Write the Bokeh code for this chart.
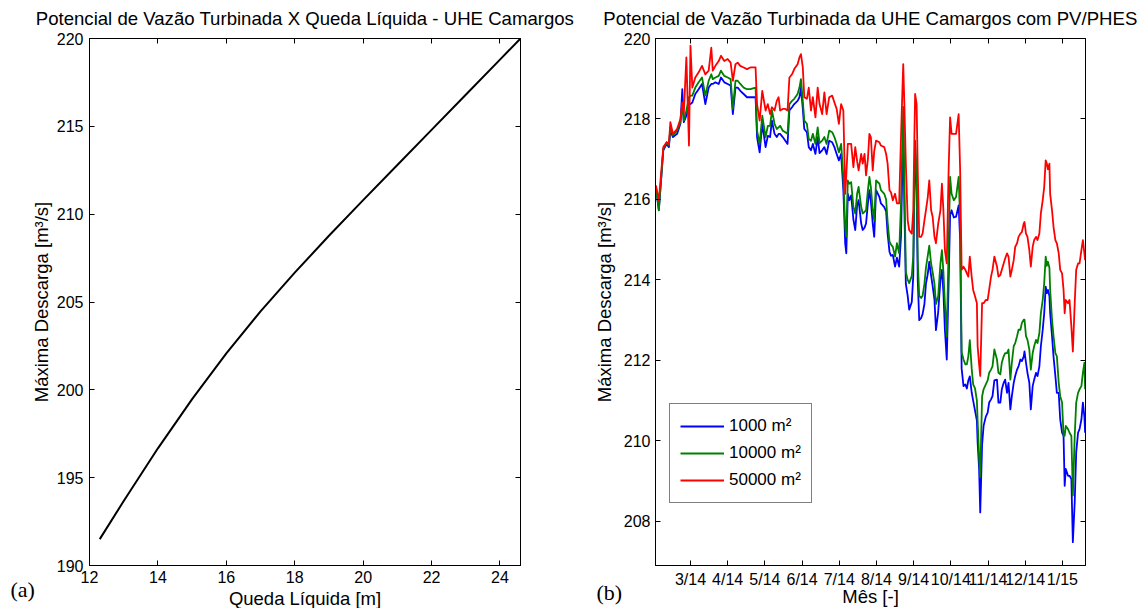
from bokeh.plotting import figure
from bokeh.models import (FixedTicker, LinearAxis, Legend, LegendItem, Title,
                          Range1d, ColumnDataSource, CustomLabelingPolicy)
from bokeh.layouts import row
from bokeh.embed import file_html
from bokeh.resources import INLINE

FONT = "Liberation Sans"

# ---------------- Panel (a): max discharge vs net head ----------------
queda = [12.3, 13.0, 14.0, 15.0, 16.0, 17.0, 18.0, 19.0, 20.0, 21.0, 22.0, 23.0, 24.0, 24.6]
descarga = [191.5, 193.67, 196.67, 199.47, 202.07, 204.47, 206.67, 208.77, 210.8,
            212.8, 214.8, 216.8, 218.8, 220.0]
a_xticks = [12, 14, 16, 18, 20, 22, 24]
a_yticks = [190, 195, 200, 205, 210, 215, 220]

# ---------------- Panel (b): max discharge over the months ----------------
# month index: 3 = 3/14 ... 13 = 1/15
mes = ([2.07, 2.15, 2.27, 2.36, 2.42, 2.46, 2.53, 2.64, 2.73, 2.78,
        2.82, 2.89, 2.96, 3.00, 3.05, 3.13, 3.22, 3.31, 3.40, 3.49,
        3.56, 3.60, 3.67, 3.76, 3.82, 3.91, 4.00, 4.08, 4.14, 4.21,
        4.27, 4.34, 4.43, 4.52, 4.61, 4.75, 4.79, 4.86, 4.93, 5.02]
       + [5.08, 5.14, 5.19, 5.26, 5.32, 5.37, 5.41, 5.48, 5.55, 5.61,
          5.66, 5.73, 5.79, 5.88, 5.93, 5.97, 6.02, 6.06, 6.13, 6.18,
          6.24, 6.29, 6.36, 6.42, 6.47, 6.54, 6.60, 6.66, 6.73, 6.81,
          6.87, 6.93, 6.99, 7.05, 7.11, 7.16, 7.19, 7.23, 7.27, 7.32,
          7.38, 7.43, 7.48, 7.52, 7.59, 7.63, 7.68, 7.72, 7.77, 7.81,
          7.85, 7.90, 7.94, 7.99, 8.08]
       + [8.12, 8.21, 8.26, 8.30, 8.35, 8.39, 8.44, 8.50, 8.55, 8.61,
          8.66, 8.70, 8.72, 8.75, 8.79, 8.84, 8.88, 8.95, 8.99, 9.02,
          9.04, 9.08, 9.11, 9.15, 9.20, 9.24, 9.29, 9.33, 9.38, 9.42,
          9.47, 9.51, 9.56, 9.60, 9.66, 9.72, 9.76, 9.80, 9.84, 9.89,
          9.94, 9.98, 10.02, 10.08, 10.14, 10.21, 10.25, 10.29, 10.34, 10.39,
          10.43, 10.47, 10.51, 10.56, 10.60, 10.65, 10.70, 10.72, 10.76, 10.79,
          10.84, 10.88, 10.94, 10.99, 11.03, 11.08, 11.12, 11.17]
       + [11.24, 11.28, 11.33, 11.37, 11.42, 11.46, 11.51, 11.55, 11.60, 11.64,
          11.69, 11.73, 11.78, 11.82, 11.87, 11.91, 11.96, 11.98, 12.02, 12.06,
          12.11, 12.15, 12.20, 12.24, 12.29, 12.33, 12.38, 12.42, 12.47, 12.51,
          12.55, 12.58, 12.61, 12.65, 12.67, 12.72, 12.76, 12.81, 12.85, 12.90,
          12.94, 12.99, 13.03, 13.06, 13.09, 13.15, 13.19, 13.24, 13.28, 13.33,
          13.37, 13.42, 13.46, 13.51, 13.55, 13.59, 13.61])

q_1000 = ([216.31, 215.73, 217.22, 217.38, 217.30, 217.71, 217.55, 217.63, 217.88, 218.74,
           217.92, 218.08, 218.37, 218.37, 218.41, 218.62, 218.74, 218.87, 218.37, 218.78,
           218.87, 218.87, 218.91, 218.87, 219.03, 218.91, 218.87, 218.83, 218.12, 218.78,
           218.78, 218.70, 218.62, 218.54, 218.54, 218.54, 217.55, 217.17, 217.88, 217.30]
          + [217.58, 217.55, 217.96, 217.63, 217.55, 217.63, 217.63, 217.55, 217.46, 217.38,
             218.21, 218.29, 218.37, 218.45, 218.54, 218.78, 218.25, 217.75, 217.67, 217.30,
             217.22, 217.38, 217.13, 217.55, 217.15, 217.22, 217.30, 217.13, 217.46, 217.42,
             217.30, 217.13, 216.97, 217.13, 216.23, 214.90, 214.66, 216.14, 215.98, 216.10,
             215.50, 215.24, 215.85, 215.98, 215.40, 215.24, 215.30, 215.40, 215.90, 216.23,
             215.95, 215.40, 215.07, 216.23, 216.06]
          + [215.90, 215.81, 215.70, 215.15, 214.70, 214.60, 214.62, 214.33, 214.55, 214.33,
             215.07, 216.90, 217.90, 215.80, 213.90, 213.60, 213.26, 213.45, 214.10, 216.31,
             217.30, 216.20, 214.00, 213.00, 213.05, 213.15, 213.40, 213.90, 214.15, 214.45,
             214.10, 213.85, 213.50, 212.75, 213.20, 214.00, 214.25, 213.70, 212.76, 212.02,
             213.90, 215.60, 215.73, 215.55, 215.57, 215.85, 215.00, 211.80, 211.36, 211.40,
             211.30, 211.50, 211.60, 211.20, 211.00, 210.75, 210.50, 209.96, 209.30, 208.22,
             209.90, 210.37, 210.60, 210.70, 210.95, 211.03, 211.11, 211.50]
          + [211.52, 210.95, 210.95, 211.28, 211.44, 211.52, 211.19, 211.44, 210.78, 211.11,
             211.44, 211.61, 211.77, 211.85, 212.02, 211.98, 212.10, 212.22, 211.94, 211.69,
             211.44, 210.78, 211.36, 211.52, 211.69, 211.61, 211.85, 212.35, 212.76, 213.17,
             213.83, 213.67, 213.75, 213.60, 213.17, 212.60, 212.10, 211.61, 211.19, 211.19,
             210.53, 210.20, 210.12, 208.88, 209.30, 209.13, 209.13, 209.05, 207.48, 208.47,
             209.71, 210.20, 210.29, 210.53, 210.95, 210.60, 210.20])

q_10000 = ([216.31, 215.73, 217.26, 217.42, 217.34, 217.79, 217.59, 217.71, 217.92, 218.37,
            217.96, 218.21, 218.54, 218.58, 218.58, 218.78, 218.91, 219.03, 218.58, 218.95,
            219.11, 218.99, 219.03, 219.07, 219.20, 219.07, 219.03, 218.99, 218.25, 218.95,
            218.95, 218.87, 218.78, 218.74, 218.74, 218.78, 217.71, 217.38, 218.08, 217.55]
           + [217.83, 217.83, 218.21, 217.88, 217.75, 217.79, 217.83, 217.71, 217.67, 217.63,
              218.37, 218.45, 218.50, 218.62, 218.78, 218.99, 218.45, 217.96, 217.88, 217.50,
              217.46, 217.63, 217.38, 217.79, 217.40, 217.46, 217.55, 217.38, 217.71, 217.67,
              217.55, 217.38, 217.17, 217.38, 216.56, 215.30, 215.07, 216.47, 216.39, 216.43,
              215.81, 215.65, 216.14, 216.31, 215.81, 215.65, 215.69, 215.73, 216.23, 216.56,
              216.30, 215.75, 215.48, 216.47, 216.39]
           + [216.23, 216.14, 216.00, 215.45, 214.95, 214.88, 214.82, 214.58, 214.91, 214.66,
              215.90, 217.50, 218.30, 216.50, 214.20, 214.00, 213.92, 214.10, 214.60, 216.47,
              217.46, 216.60, 214.50, 213.60, 213.55, 213.60, 213.90, 214.30, 214.60, 214.85,
              214.40, 214.20, 213.90, 213.40, 213.60, 214.41, 214.74, 214.20, 213.42, 212.60,
              214.80, 216.56, 216.14, 215.98, 216.06, 216.56, 215.48, 212.20, 212.02, 211.90,
              211.90, 212.10, 212.50, 211.80, 211.40, 211.30, 211.00, 210.50, 209.60, 209.10,
              211.10, 211.28, 211.40, 211.50, 211.69, 211.77, 211.85, 212.27]
           + [212.02, 211.69, 211.65, 211.94, 212.10, 212.18, 212.18, 212.27, 211.52, 211.94,
              212.35, 212.43, 212.60, 212.76, 212.76, 212.93, 213.01, 213.01, 212.60, 212.51,
              212.27, 211.77, 212.18, 212.35, 212.51, 212.43, 212.68, 213.17, 213.50, 213.92,
              214.58, 214.35, 214.45, 214.30, 213.75, 213.01, 212.60, 212.18, 212.10, 211.44,
              211.11, 210.95, 210.12, 210.12, 210.37, 210.29, 210.20, 210.12, 208.64, 210.12,
              210.95, 211.19, 211.28, 211.36, 211.69, 211.94, 211.28])

q_50000 = ([216.35, 215.98, 217.30, 217.42, 217.38, 217.92, 217.63, 217.75, 218.00, 218.41,
            218.12, 219.53, 217.34, 219.82, 218.78, 219.03, 219.16, 219.32, 219.11, 219.20,
            219.77, 219.20, 219.32, 219.44, 219.57, 219.44, 219.49, 219.40, 218.95, 219.36,
            219.40, 219.32, 219.28, 219.24, 219.28, 219.28, 218.37, 217.96, 218.70, 218.21]
           + [218.37, 218.12, 218.29, 218.21, 218.45, 218.54, 218.21, 218.25, 218.25, 218.21,
              219.03, 219.11, 219.24, 219.36, 219.53, 219.61, 219.28, 218.54, 218.50, 218.78,
              218.21, 218.54, 218.04, 218.78, 218.37, 218.12, 218.66, 218.12, 218.54, 218.58,
              218.41, 218.25, 217.88, 218.37, 218.21, 216.14, 216.60, 217.38, 217.38, 217.38,
              216.80, 217.30, 216.95, 216.72, 217.13, 216.89, 217.13, 216.60, 217.00, 217.63,
              217.55, 216.72, 217.20, 217.46, 217.42]
           + [217.34, 217.30, 217.13, 216.89, 216.23, 216.18, 215.98, 216.14, 215.90, 215.90,
              217.55, 218.78, 219.36, 218.37, 216.89, 215.48, 215.24, 215.15, 215.73, 217.55,
              218.62, 218.37, 216.72, 215.07, 215.07, 215.15, 215.48, 215.73, 216.06, 216.47,
              215.73, 215.57, 215.07, 214.91, 215.40, 215.73, 216.39, 215.73, 214.74, 214.41,
              216.72, 218.04, 217.63, 217.63, 217.63, 218.12, 216.72, 214.25, 214.33, 214.25,
              214.16, 214.08, 214.58, 214.08, 213.75, 213.59, 213.42, 212.35, 211.90, 211.61,
              213.42, 213.42, 213.50, 213.50, 213.75, 214.08, 214.25, 214.58]
           + [214.33, 214.08, 214.12, 214.25, 214.41, 214.53, 214.66, 214.58, 214.08, 214.25,
              214.49, 214.82, 214.91, 215.07, 215.15, 215.19, 215.40, 215.44, 215.15, 215.07,
              214.74, 214.33, 214.82, 214.99, 215.07, 214.99, 215.15, 215.65, 215.98, 216.31,
              216.97, 216.89, 216.75, 216.89, 216.14, 215.73, 215.32, 214.99, 214.91, 214.66,
              214.25, 214.16, 213.75, 213.17, 213.50, 213.42, 213.50, 212.84, 212.22, 213.42,
              214.25, 214.41, 214.41, 214.74, 214.99, 214.66, 214.49])

b_xticks = [3, 4, 5, 6, 7, 8, 9, 10, 11, 12, 13]
b_xlabels = ["3/14", "4/14", "5/14", "6/14", "7/14", "8/14", "9/14", "10/14",
             "11/14", "12/14", "1/15"]
b_yticks = [208, 210, 212, 214, 216, 218, 220]
series_labels = ["1000 m²", "10000 m²", "50000 m²"]
series_colors = ["#0000ff", "#008000", "#ff0000"]

NO_LABELS = "for (const i of indices) { indices.unset(i) } return indices"


def style_axis(ax, ticker, show_labels=True):
    ax.ticker = FixedTicker(ticks=ticker)
    ax.major_tick_in = 5
    ax.major_tick_out = 0
    ax.minor_tick_line_color = None
    ax.axis_line_color = "black"
    ax.major_tick_line_color = "black"
    if show_labels:
        ax.major_label_text_font = FONT
        ax.major_label_text_font_size = "16px"
        ax.major_label_text_color = "black"
        ax.axis_label_text_font = FONT
        ax.axis_label_text_font_size = "18.5px"
        ax.axis_label_text_font_style = "normal"
        ax.axis_label_text_color = "black"
    else:
        ax.major_label_policy = CustomLabelingPolicy(code=NO_LABELS)
        ax.major_label_text_font_size = "1px"
        ax.major_label_standoff = 0


def base_figure(width, x_range, y_range, bl, br, title):
    p = figure(width=width, height=608, x_range=x_range, y_range=y_range,
               output_backend="svg", toolbar_location=None,
               min_border_left=bl, min_border_right=br,
               min_border_top=37, min_border_bottom=43)
    p.title.text = title
    p.title.align = "center"
    p.title.text_font = FONT
    p.title.text_font_size = "18.6px"
    p.title.text_font_style = "normal"
    p.title.text_color = "black"
    p.title.standoff = 11
    p.xgrid.visible = False
    p.ygrid.visible = False
    p.outline_line_color = "black"
    p.outline_line_width = 1
    p.background_fill_color = "white"
    p.border_fill_color = "white"
    return p


def bottom_texts(p, panel_tag, panel_offset, xlabel, tag_standoff, label_standoff):
    # panel tag "(a)" / "(b)", sitting between the tick labels and the axis title
    tag = Title(text=panel_tag, align="left", vertical_align="bottom",
                offset=panel_offset, standoff=tag_standoff,
                text_font="Liberation Serif", text_font_size="22px",
                text_font_style="normal", text_color="black")
    p.add_layout(tag, "below")
    lab = Title(text=xlabel, align="center", vertical_align="top",
                standoff=label_standoff,
                text_font=FONT, text_font_size="18.5px",
                text_font_style="normal", text_color="black")
    p.add_layout(lab, "below")


# ---- Panel (a)
p1 = base_figure(590, Range1d(12, 24.6), Range1d(190, 220), 89, 70,
                 "Potencial de Vazão Turbinada X Queda Líquida - UHE Camargos")
style_axis(p1.xaxis[0], a_xticks)
style_axis(p1.yaxis[0], a_yticks)
p1.xaxis[0].major_label_standoff = 5
p1.yaxis[0].axis_label = "Máxima Descarga [m³/s]"
p1.yaxis[0].major_label_standoff = 6
p1.yaxis[0].axis_label_standoff = 2
top1 = LinearAxis()
style_axis(top1, a_xticks, False)
p1.add_layout(top1, "above")
right1 = LinearAxis()
style_axis(right1, a_yticks, False)
p1.add_layout(right1, "right")
bottom_texts(p1, "(a)", -79, "Queda Líquida [m]", -22, -6)

src_a = ColumnDataSource(dict(queda=queda, descarga=descarga))
p1.line("queda", "descarga", source=src_a, line_color="black", line_width=2)

# ---- Panel (b)
p2 = base_figure(553, Range1d(2.06, 13.62), Range1d(206.9, 220), 65, 58,
                 "Potencial de Vazão Turbinada da UHE Camargos com PV/PHES")
style_axis(p2.xaxis[0], b_xticks)
p2.xaxis[0].major_label_overrides = {t: l for t, l in zip(b_xticks, b_xlabels)}
p2.xaxis[0].major_label_standoff = 5
style_axis(p2.yaxis[0], b_yticks)
p2.yaxis[0].axis_label = "Máxima Descarga [m³/s]"
p2.yaxis[0].major_label_standoff = 5
p2.yaxis[0].axis_label_standoff = 6
top2 = LinearAxis()
style_axis(top2, b_xticks, False)
p2.add_layout(top2, "above")
right2 = LinearAxis()
style_axis(right2, b_yticks, False)
p2.add_layout(right2, "right")
bottom_texts(p2, "(b)", -59, "Mês [-]", -28, -9)

src_b = ColumnDataSource(dict(mes=mes, q1=q_1000, q2=q_10000, q3=q_50000))
renderers = []
for col, color in zip(["q1", "q2", "q3"], series_colors):
    r = p2.line("mes", col, source=src_b, line_color=color, line_width=1.8,
                line_join="round")
    renderers.append(r)

legend = Legend(items=[LegendItem(label=lab, renderers=[r])
                       for lab, r in zip(series_labels, renderers)],
                location=(14, 62))
legend.border_line_color = "black"
legend.border_line_width = 1
legend.background_fill_color = "white"
legend.background_fill_alpha = 1
legend.label_text_font = FONT
legend.label_text_font_size = "17px"
legend.label_text_color = "black"
legend.glyph_width = 44
legend.glyph_height = 24
legend.label_height = 24
legend.label_standoff = 5
legend.spacing = 3
legend.padding = 10
legend.margin = 0
p2.add_layout(legend)

layout = row(p1, p2)
open("out.html", "w").write(file_html(layout, INLINE))
